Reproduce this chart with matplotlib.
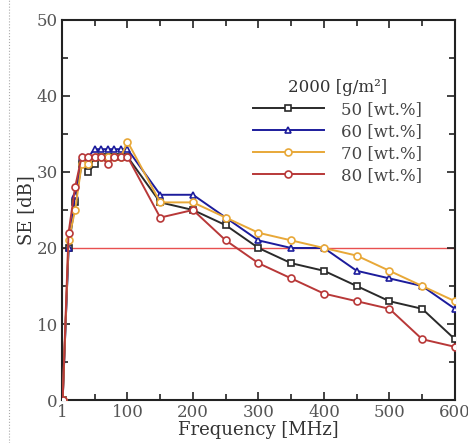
import matplotlib
matplotlib.use("Agg")
import matplotlib.pyplot as plt
from matplotlib.ticker import MultipleLocator, FixedLocator

plt.rcParams['font.family'] = ['DejaVu Serif']

freq = [1, 10, 20, 30, 40, 50, 60, 70, 80, 90, 100,
        150, 200, 250, 300, 350, 400, 450, 500, 550, 600]

se_50 = [0, 20, 26, 31, 30, 31, 32, 32, 32, 32, 32,
         26, 25, 23, 20, 18, 17, 15, 13, 12, 8]
se_60 = [0, 20, 27, 32, 32, 33, 33, 33, 33, 33, 33,
         27, 27, 24, 21, 20, 20, 17, 16, 15, 12]
se_70 = [0, 21, 25, 31, 31, 32, 32, 32, 32, 32, 34,
         26, 26, 24, 22, 21, 20, 19, 17, 15, 13]
se_80 = [0, 22, 28, 32, 32, 32, 32, 31, 32, 32, 32,
         24, 25, 21, 18, 16, 14, 13, 12, 8, 7]

labels = ['50 [wt.%]', '60 [wt.%]', '70 [wt.%]', '80 [wt.%]']
colors = ['#2a2a2a', '#1c1c9c', '#e8a838', '#b83838']
markers = ['s', '^', 'o', 'o']
limit = 20
xticks = [0, 100, 200, 300, 400, 500, 600]
xticklabels = ['1', '100', '200', '300', '400', '500', '600']

fig = plt.figure(figsize=(4.68, 4.43), dpi=100)
ax = fig.add_axes([0.1325, 0.097, 0.8395, 0.858])

ax.axhline(limit, color='#e85050', lw=1.0, zorder=1)

for ys, lab, c, m in zip([se_50, se_60, se_70, se_80], labels, colors, markers):
    ax.plot(freq, ys, color=c, lw=1.4, marker=m, ms=5, mfc='white',
            mec=c, mew=1.2, label=lab, zorder=3)

ax.set_xlim(0, 600)
ax.set_ylim(0, 50)
ax.xaxis.set_major_locator(FixedLocator(xticks))
ax.set_xticklabels(xticklabels)
ax.xaxis.set_minor_locator(MultipleLocator(50))
ax.yaxis.set_major_locator(MultipleLocator(10))
ax.yaxis.set_minor_locator(MultipleLocator(5))
ax.tick_params(which='both', direction='in', top=True, right=True,
               labelsize=12, width=1.2, pad=3, colors='#222222', labelcolor='#555555')
ax.tick_params(which='major', length=6)
ax.tick_params(which='minor', length=4)
for s in ax.spines.values():
    s.set_linewidth(1.5)
    s.set_color('#222222')

ax.set_xlabel('Frequency [MHz]', fontsize=13, color='#333333', labelpad=0)
ax.set_ylabel('SE [dB]', fontsize=13, color='#333333', labelpad=1)

leg = ax.legend(title='2000 [g/m²]', loc='upper left', bbox_to_anchor=(0.485, 0.845),
                frameon=False, fontsize=12, title_fontsize=12, handlelength=4.3,
                handletextpad=1.0, labelspacing=0.3, borderpad=0, borderaxespad=0)
for t in leg.get_texts():
    t.set_color('#444444')
leg.get_title().set_color('#333333')

fig.add_artist(plt.Line2D([0.019, 0.019], [0.0, 1.0], transform=fig.transFigure,
                          color='#aaaaaa', lw=0.8, ls=':'))

fig.savefig('out.png', dpi=100)
